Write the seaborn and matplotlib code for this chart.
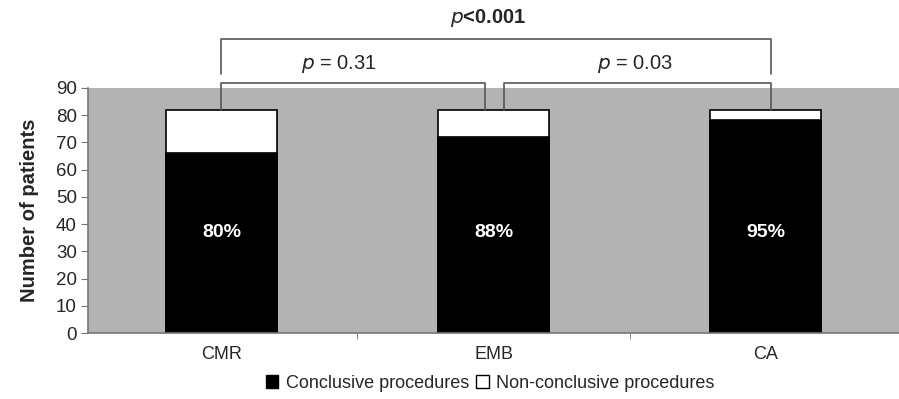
import matplotlib
matplotlib.use("Agg")
from matplotlib import pyplot as plt
import seaborn as sns
import numpy as np
import pandas as pd

categories = ["CMR", "EMB", "CA"]
conclusive = [66, 72, 78]
non_conclusive = [16, 10, 4]
percent_labels = ["80%", "88%", "95%"]
yticks = [0, 10, 20, 30, 40, 50, 60, 70, 80, 90]

totals = [c + n for c, n in zip(conclusive, non_conclusive)]
df = pd.DataFrame({"method": categories, "conclusive": conclusive, "total": totals})

sns.set_style("ticks")
plt.rcParams["font.family"] = ["Liberation Sans", "DejaVu Sans"]

fig = plt.figure(figsize=(8.99, 3.99), dpi=100)
ax = fig.add_axes([0.098, 0.165, 0.902, 0.615])
ax.set_facecolor("#b3b3b3")

sns.barplot(data=df, x="method", y="total", color="white", edgecolor="black",
            linewidth=1.2, width=0.41, ax=ax, saturation=1)
sns.barplot(data=df, x="method", y="conclusive", color="black", edgecolor="black",
            linewidth=1.2, width=0.41, ax=ax, saturation=1)

ax.set_xlim(-0.49, 2.49)
ax.set_ylim(0, 90)
ax.set_yticks(yticks)
ax.set_xticks([0.5, 1.5], minor=True)
ax.tick_params(axis="x", which="major", length=0, pad=9, labelsize=13)
ax.tick_params(axis="x", which="minor", length=4, color="#777777")
ax.tick_params(axis="y", length=5, color="#777777", labelsize=13.5, pad=3)
ax.set_xlabel("")
ax.set_ylabel("Number of patients", fontsize=14.5, fontweight="bold", labelpad=12)
for side in ["top", "right"]:
    ax.spines[side].set_visible(False)
for side in ["left", "bottom"]:
    ax.spines[side].set_color("#777777")
    ax.spines[side].set_linewidth(1.2)

for i, lab in enumerate(percent_labels):
    ax.text(i, 37, lab, color="white", fontsize=14, fontweight="bold",
            ha="center", va="center")

# significance brackets
lc = "#555555"
def bracket(x0, x1, y_leg0, y_leg1, y_top):
    ax.plot([x0, x0, x1, x1], [y_leg0, y_top, y_top, y_leg1], color=lc,
            lw=1.2, clip_on=False)

bracket(0, 0.97, 82, 82, 91.8)
bracket(1.04, 2.02, 82, 82, 91.8)
bracket(0, 2.02, 95, 95, 107.8)

ax.text(0.43, 94.8, r"$\it{p}$ = 0.31", fontsize=14.5, ha="center", va="bottom")
ax.text(1.52, 94.8, r"$\it{p}$ = 0.03", fontsize=14.5, ha="center", va="bottom")
ax.text(0.98, 111.5, r"$\bf{\it{p}}$<0.001", fontsize=14.5, fontweight="bold",
        ha="center", va="bottom")

from matplotlib.patches import Patch
handles = [Patch(facecolor="black", edgecolor="black", label="Conclusive procedures"),
           Patch(facecolor="white", edgecolor="black", label="Non-conclusive procedures")]
fig.legend(handles=handles, loc="center", bbox_to_anchor=(0.545, 0.04), ncol=2,
           frameon=False, fontsize=13, handlelength=0.7, handleheight=0.7,
           handletextpad=0.4, columnspacing=0.4)

fig.savefig("out.png", dpi=100)
